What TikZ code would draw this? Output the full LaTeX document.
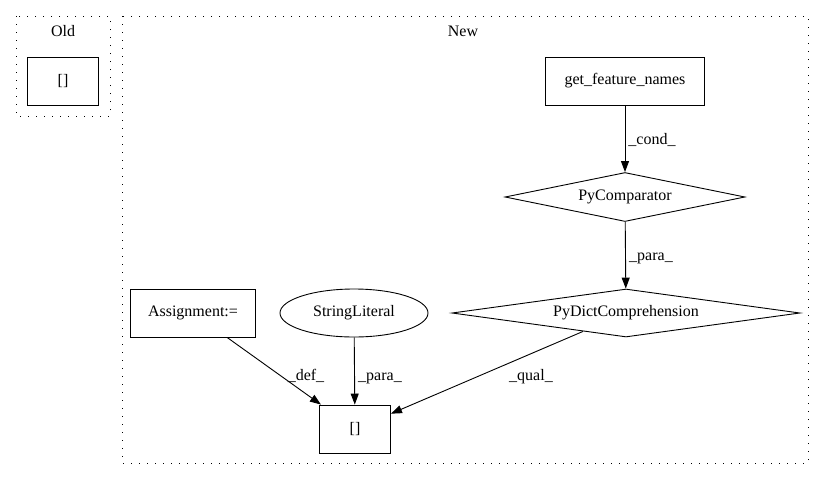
\documentclass[tikz,border=0pt]{standalone}
\usepackage{fontspec}
\setmainfont{Liberation Serif}
\usetikzlibrary{shapes.geometric,arrows.meta}

\tikzset{
  box/.style={draw, rectangle, inner sep=0pt, line width=0.9pt},
  dmd/.style={draw, diamond, inner sep=0pt, line width=0.9pt},
  oval/.style={draw, ellipse, inner sep=0pt, line width=0.9pt},
  cluster/.style={draw, line width=0.9pt, dash pattern=on 1.3pt off 6.7pt},
  lbl/.style={anchor=base, inner sep=0pt},
  edge/.style={line width=0.9pt, -{Triangle[length=11pt,width=8pt]}},
}

\begin{document}
\begin{tikzpicture}[x=1pt, y=-1pt, font=\fontsize{16}{18}\selectfont]
  \useasboundingbox (0,0) rectangle (824,480);

  % clusters
  \draw[cluster] (16,16) rectangle (110,116);
  \node[lbl] (oldlbl) at (63,36) {Old};
  \draw[cluster] (122,16) rectangle (808,463);
  \node[lbl] (newlbl) at (463,36) {New};

  \node[box, minimum width=71pt, minimum height=48pt] (oldidx) at (63,81) {[]};

  \node[box, minimum width=159pt, minimum height=48pt] (getfn) at (625,81) {get\_feature\_names};
  \node[dmd, shape aspect=4.9, minimum width=240pt, minimum height=49pt] (cmp) at (625,197) {PyComparator};
  \node[dmd, shape aspect=7.25, minimum width=348pt, minimum height=48pt] (dict) at (626,313) {PyDictComprehension};
  \node[box, minimum width=125pt, minimum height=48pt] (asg) at (193,313) {Assignment:=};
  \node[oval, minimum width=148pt, minimum height=48pt] (strlit) at (354,313) {StringLiteral};
  \node[box, minimum width=71pt, minimum height=48pt] (idx) at (355,429) {[]};

  \draw[edge] (getfn) -- (cmp);
  \node[lbl] (l1) at (652,144) {\_cond\_};
  \draw[edge] (cmp) -- (dict);
  \node[lbl] (l2) at (651,260) {\_para\_};
  \draw[edge] (asg) -- (idx);
  \node[lbl] (l3) at (306,380) {\_def\_};
  \draw[edge] (strlit) -- (idx);
  \node[lbl] (l4) at (380,380) {\_para\_};
  \draw[edge] (dict) -- (idx);
  \node[lbl] (l5) at (531,380) {\_qual\_};
\end{tikzpicture}
\end{document}
